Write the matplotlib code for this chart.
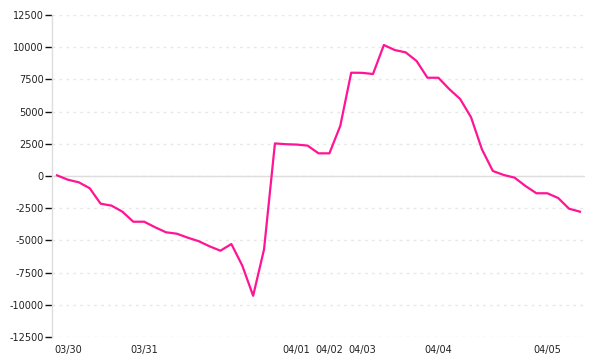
import matplotlib.pyplot as plt

#Chart data.
pnl = [50, -290, -490, -950, -2150, -2300, -2770, -3550, -3550, -3980,
       -4370, -4480, -4790, -5060, -5460, -5800, -5280, -6950, -9300, -5700,
       2530, 2470, 2440, 2360, 1760, 1760, 3900, 8020, 8010, 7920,
       10170, 9780, 9600, 8930, 7630, 7630, 6750, 5980, 4560, 2070,
       390, 80, -130, -780, -1340, -1340, -1710, -2540, -2770]
day_labels = ['03/30', '03/31', '04/01', '04/02', '04/03', '04/04', '04/05']
day_index = [1, 8, 22, 25, 28, 35, 45]
y_ticks = [-12500, -10000, -7500, -5000, -2500, 0, 2500, 5000, 7500, 10000, 12500]

#Style options.
line_color = '#ff1493'
text_color = '#222222'
grid_color = '#e8e8e8'
axis_color = '#dddddd'
plt.rcParams['font.family'] = 'DejaVu Sans'
plt.rcParams['axes.unicode_minus'] = False

fig = plt.figure(figsize=(6, 3.6), dpi=100)
ax = fig.add_axes([0.0867, 0.0639, 0.8883, 0.8944])

x = list(range(len(pnl)))
ax.plot(x, pnl, color=line_color, linewidth=1.6, zorder=3)

ax.set_xlim(-0.46, len(pnl) - 1 + 0.46)
ax.set_ylim(-12500, 12500)

#Grid: dotted lines, solid at zero.
ax.set_yticks(y_ticks)
ax.yaxis.grid(True, color=grid_color, linewidth=1.0, linestyle=(0, (2, 3)))
ax.axhline(0, color=axis_color, linewidth=1.0, zorder=2)
ax.set_axisbelow(True)

ax.set_xticks(day_index)
ax.set_xticklabels(day_labels)

for side in ['top', 'right', 'bottom']:
    ax.spines[side].set_visible(False)
ax.spines['left'].set_color(axis_color)
ax.spines['left'].set_linewidth(1.0)

ax.tick_params(axis='y', length=5, width=1.0, color='#111111', pad=1,
               labelsize=7, labelcolor=text_color)
ax.tick_params(axis='x', length=0, pad=6, labelsize=7, labelcolor=text_color)

fig.savefig('out.png', dpi=100, facecolor='white')
